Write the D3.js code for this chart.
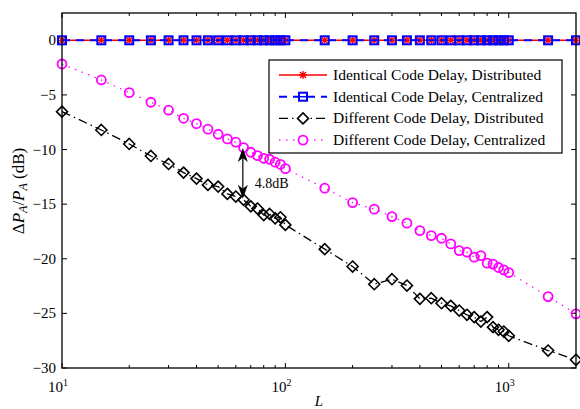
<!DOCTYPE html>
<html>
<head>
<meta charset="utf-8">
<script src="https://cdn.jsdelivr.net/npm/d3@7"></script>
<style>
  body { margin: 0; background: #fff; }
  text { font-family: "Liberation Serif", "Times New Roman", serif; fill: #000; }
</style>
</head>
<body>
<div id="chart"></div>
<script>
// data
var L = [10, 15, 20, 25, 30, 35, 40, 45, 50, 55, 60, 65, 70, 75, 80, 85, 90, 95, 100,
         150, 200, 250, 300, 350, 400, 450, 500, 550, 600, 650, 700, 750, 800, 850, 900, 950, 1000,
         1500, 2000];
var identicalDistributed = L.map(() => 0);
var identicalCentralized = L.map(() => 0);
var differentDistributed = [-6.53, -8.21, -9.49, -10.59, -11.32, -12.11, -12.66, -13.24, -13.39, -14.06,
    -14.3, -14.6, -15.2, -15.4, -16.0, -15.9, -16.3, -16.2, -16.9,
    -19.12, -20.71, -22.33, -21.87, -22.45, -23.67, -23.61, -24.07, -24.31, -24.74, -25.13, -25.34,
    -25.75, -25.34, -26.26, -26.5, -26.66, -27.05, -28.4, -29.25];
var differentCentralized = [-2.17, -3.63, -4.79, -5.67, -6.4, -7.14, -7.63, -8.14, -8.6, -9.03,
    -9.33, -9.82, -10.25, -10.56, -10.8, -10.89, -11.16, -11.35, -11.75,
    -13.54, -14.86, -15.46, -16.14, -16.74, -17.42, -17.88, -18.12, -18.64, -19.25, -19.4, -19.85,
    -19.71, -20.4, -20.49, -20.8, -21.02, -21.26, -23.46, -25.04];
var legendLabels = ["Identical Code Delay, Distributed", "Identical Code Delay, Centralized",
    "Different Code Delay, Distributed", "Different Code Delay, Centralized"];
var yTicks = [0, -5, -10, -15, -20, -25, -30];
var xMajor = [10, 100, 1000];
// annotation arrow between the two "different" curves
var gapL = 64.5, gapTop = -9.85, gapBottom = -14.5, gapText = "4.8dB";

function draw() {
    var width = 580, height = 409;
    var svg = d3.select("#chart").append("svg")
        .attr("width", width)
        .attr("height", height);

    var x = d3.scaleLog().domain([10, 2000]).range([62, 576]);
    var y = d3.scaleLinear().domain([-30, 2.5]).range([368, 13]);

    //minor ticks for the log axis
    var xMinor = [];
    [10, 100, 1000].forEach(d => {
        for (let k = 2; k <= 9; k++) if (d * k < 2000) xMinor.push(d * k);
    });

    var axes = svg.append("g").attr("stroke", "#000").attr("stroke-width", 1);
    xMajor.forEach(v => {
        axes.append("line").attr("x1", x(v)).attr("x2", x(v)).attr("y1", y(-30)).attr("y2", y(-30) - 5);
        axes.append("line").attr("x1", x(v)).attr("x2", x(v)).attr("y1", y(2.5)).attr("y2", y(2.5) + 5);
    });
    xMinor.forEach(v => {
        axes.append("line").attr("x1", x(v)).attr("x2", x(v)).attr("y1", y(-30)).attr("y2", y(-30) - 3);
        axes.append("line").attr("x1", x(v)).attr("x2", x(v)).attr("y1", y(2.5)).attr("y2", y(2.5) + 3);
    });
    yTicks.forEach(v => {
        axes.append("line").attr("x1", x(10)).attr("x2", x(10) + 5).attr("y1", y(v)).attr("y2", y(v));
        axes.append("line").attr("x1", x(2000)).attr("x2", x(2000) - 5).attr("y1", y(v)).attr("y2", y(v));
    });

    //tick labels
    svg.append("g").selectAll("text")
        .data(yTicks)
        .join("text")
        .attr("x", x(10) - 6)
        .attr("y", d => y(d) + 5)
        .attr("text-anchor", "end")
        .style("font-size", "15px")
        .text(d => d < 0 ? "\u2212" + Math.abs(d) : d);

    var xl = svg.append("g").selectAll("text")
        .data(xMajor)
        .join("text")
        .attr("x", d => x(d) - 4)
        .attr("y", 392)
        .attr("text-anchor", "middle")
        .style("font-size", "15px");
    xl.append("tspan").text("10");
    xl.append("tspan").attr("dy", -6).style("font-size", "10px").text(d => Math.round(Math.log10(d)));

    //curves
    var line = d3.line().x((d, i) => x(L[i])).y(d => y(d));

    svg.append("path")
        .attr("d", line(identicalDistributed))
        .attr("fill", "none").attr("stroke", "#ff0000").attr("stroke-width", 1.6);
    svg.append("g").selectAll("path")
        .data(identicalDistributed)
        .join("path")
        .attr("transform", (d, i) => `translate(${x(L[i])},${y(d)})`)
        .attr("d", "M-4,0H4M0,-4V4M-3,-3L3,3M-3,3L3,-3")
        .attr("stroke", "#ff0000").attr("stroke-width", 1.3).attr("fill", "none");

    svg.append("path")
        .attr("d", line(identicalCentralized))
        .attr("fill", "none").attr("stroke", "#0000ff").attr("stroke-width", 2)
        .attr("stroke-dasharray", "8,6");
    svg.append("g").selectAll("rect")
        .data(identicalCentralized)
        .join("rect")
        .attr("x", (d, i) => x(L[i]) - 4)
        .attr("y", d => y(d) - 4)
        .attr("width", 8).attr("height", 8)
        .attr("fill", "none").attr("stroke", "#0000ff").attr("stroke-width", 2);

    svg.append("path")
        .attr("d", line(differentDistributed))
        .attr("fill", "none").attr("stroke", "#000").attr("stroke-width", 1.3)
        .attr("stroke-dasharray", "9,4,1.5,4");
    svg.append("g").selectAll("path")
        .data(differentDistributed)
        .join("path")
        .attr("transform", (d, i) => `translate(${x(L[i])},${y(d)})`)
        .attr("d", "M0,-5.5L5.5,0L0,5.5L-5.5,0Z")
        .attr("fill", "none").attr("stroke", "#000").attr("stroke-width", 1.6);

    svg.append("path")
        .attr("d", line(differentCentralized))
        .attr("fill", "none").attr("stroke", "#ff00ff").attr("stroke-width", 1.2)
        .attr("stroke-dasharray", "1.5,5.5");
    svg.append("g").selectAll("circle")
        .data(differentCentralized)
        .join("circle")
        .attr("cx", (d, i) => x(L[i]))
        .attr("cy", d => y(d))
        .attr("r", 4.5)
        .attr("fill", "none").attr("stroke", "#ff00ff").attr("stroke-width", 1.8);

    //annotation arrow
    var ax = x(gapL), y1 = y(gapTop), y2 = y(gapBottom);
    svg.append("line")
        .attr("x1", ax).attr("x2", ax).attr("y1", y1 + 4).attr("y2", y2 - 4)
        .attr("stroke", "#000").attr("stroke-width", 1.2);
    svg.append("path")
        .attr("d", `M${ax},${y1}L${ax + 5},${y1 + 14}L${ax},${y1 + 10}L${ax - 5},${y1 + 14}Z`)
        .attr("fill", "#000");
    svg.append("path")
        .attr("d", `M${ax},${y2}L${ax + 5},${y2 - 14}L${ax},${y2 - 10}L${ax - 5},${y2 - 14}Z`)
        .attr("fill", "#000");
    svg.append("text")
        .attr("x", ax + 12).attr("y", y(gapTop) + 40)
        .style("font-size", "14px")
        .text(gapText);

    //box
    svg.append("rect")
        .attr("x", x(10)).attr("y", y(2.5))
        .attr("width", x(2000) - x(10)).attr("height", y(-30) - y(2.5))
        .attr("fill", "none").attr("stroke", "#000").attr("stroke-width", 1.3);

    //legend
    var lg = svg.append("g").attr("transform", "translate(269,60)");
    lg.append("rect").attr("width", 293).attr("height", 93)
        .attr("fill", "#fff").attr("stroke", "#000").attr("stroke-width", 1.2);
    var styles = [
        { color: "#ff0000", dash: null, w: 1.6 },
        { color: "#0000ff", dash: "8,6", w: 2 },
        { color: "#000", dash: "9,4,1.5,4", w: 1.3 },
        { color: "#ff00ff", dash: "1.5,5.5", w: 1.2 }
    ];
    legendLabels.forEach((label, i) => {
        let cy = 15 + i * 21.7;
        let s = styles[i];
        lg.append("line").attr("x1", 10).attr("x2", 58).attr("y1", cy).attr("y2", cy)
            .attr("stroke", s.color).attr("stroke-width", s.w)
            .attr("stroke-dasharray", s.dash);
        let m = lg.append("g").attr("transform", `translate(34,${cy})`);
        if (i == 0) {
            m.append("path").attr("d", "M-4,0H4M0,-4V4M-3,-3L3,3M-3,3L3,-3")
                .attr("stroke", s.color).attr("stroke-width", 1.3);
        } else if (i == 1) {
            m.append("rect").attr("x", -4).attr("y", -4).attr("width", 8).attr("height", 8)
                .attr("fill", "#fff").attr("stroke", s.color).attr("stroke-width", 2);
            m.append("line").attr("x1", -3).attr("x2", 3).attr("y1", 0).attr("y2", 0)
                .attr("stroke", s.color).attr("stroke-width", 1.5);
        } else if (i == 2) {
            m.append("path").attr("d", "M0,-5.5L5.5,0L0,5.5L-5.5,0Z")
                .attr("fill", "#fff").attr("stroke", s.color).attr("stroke-width", 1.6);
        } else {
            m.append("circle").attr("r", 4.5)
                .attr("fill", "#fff").attr("stroke", s.color).attr("stroke-width", 1.8);
        }
        lg.append("text").attr("x", 64).attr("y", cy + 5)
            .style("font-size", "15.5px")
            .text(label);
    });

    //axis labels
    svg.append("text")
        .attr("x", (x(10) + x(2000)) / 2).attr("y", 406)
        .attr("text-anchor", "middle")
        .style("font-size", "15px").style("font-style", "italic")
        .text("L");

    var yl = svg.append("text")
        .attr("transform", "translate(24,191) rotate(-90)")
        .attr("text-anchor", "middle")
        .style("font-size", "17px");
    yl.append("tspan").text("\u0394");
    yl.append("tspan").style("font-style", "italic").text("P");
    yl.append("tspan").style("font-style", "italic").style("font-size", "12px").attr("dy", 3).text("A");
    yl.append("tspan").attr("dy", -3).text("/");
    yl.append("tspan").style("font-style", "italic").text("P");
    yl.append("tspan").style("font-style", "italic").style("font-size", "12px").attr("dy", 3).text("A");
    yl.append("tspan").attr("dy", -3).text(" (dB)");
}

document.addEventListener("DOMContentLoaded", function () {
    draw();
});
</script>
</body>
</html>
